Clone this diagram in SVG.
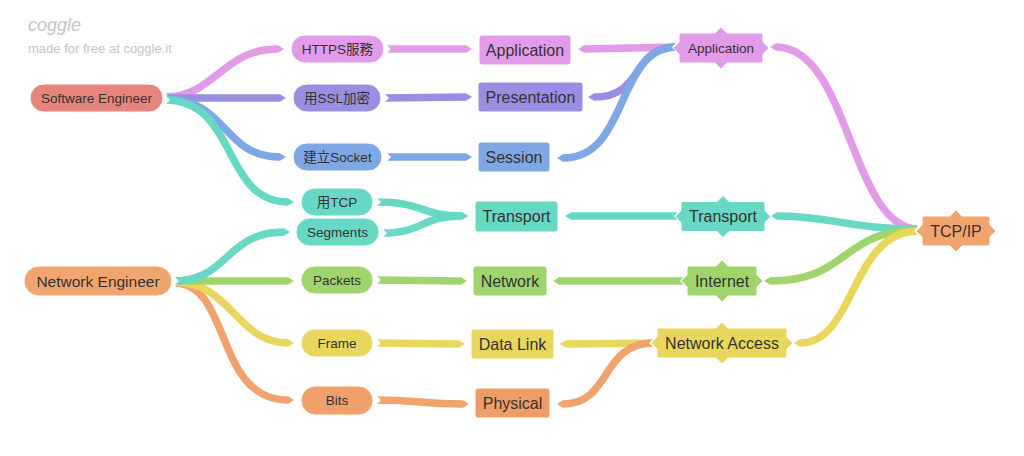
<svg xmlns="http://www.w3.org/2000/svg" width="1024" height="456" viewBox="0 0 1024 456">
<style>
.t{font-family:"Liberation Sans",Arial,"Noto Sans CJK TC",sans-serif;fill:#363232;text-anchor:middle;dominant-baseline:central}
.f13{font-size:13.5px}.f14{font-size:13.5px}.f15{font-size:15.5px}.f16{font-size:16px}
.c{fill:none;stroke-width:7.5;marker-start:url(#notch)}
.pk{stroke:#e29be8;marker-end:url(#mpk)}
.pu{stroke:#9a8ee2;marker-end:url(#mpu)}
.bl{stroke:#7ea7e6;marker-end:url(#mbl)}
.te{stroke:#66d8c3;marker-end:url(#mte)}
.gr{stroke:#9fd56c;marker-end:url(#mgr)}
.ye{stroke:#e9d65c;marker-end:url(#mye)}
.or{stroke:#f0a36c;marker-end:url(#mor)}
.n{stroke:#fff;stroke-width:1}
</style>
<defs>
<marker id="notch" markerUnits="userSpaceOnUse" viewBox="0 0 5 10" refX="0" refY="5" markerWidth="5" markerHeight="10" orient="auto"><path d="M0,0 L5,5 L0,10 Z" fill="#fff"/></marker>
<marker id="mpk" markerUnits="userSpaceOnUse" viewBox="0 0 6 7.5" refX="0" refY="3.75" markerWidth="6" markerHeight="7.5" orient="auto"><path d="M0,0 L6,3.75 L0,7.5 Z" fill="#e29be8"/></marker>
<marker id="mpu" markerUnits="userSpaceOnUse" viewBox="0 0 6 7.5" refX="0" refY="3.75" markerWidth="6" markerHeight="7.5" orient="auto"><path d="M0,0 L6,3.75 L0,7.5 Z" fill="#9a8ee2"/></marker>
<marker id="mbl" markerUnits="userSpaceOnUse" viewBox="0 0 6 7.5" refX="0" refY="3.75" markerWidth="6" markerHeight="7.5" orient="auto"><path d="M0,0 L6,3.75 L0,7.5 Z" fill="#7ea7e6"/></marker>
<marker id="mte" markerUnits="userSpaceOnUse" viewBox="0 0 6 7.5" refX="0" refY="3.75" markerWidth="6" markerHeight="7.5" orient="auto"><path d="M0,0 L6,3.75 L0,7.5 Z" fill="#66d8c3"/></marker>
<marker id="mgr" markerUnits="userSpaceOnUse" viewBox="0 0 6 7.5" refX="0" refY="3.75" markerWidth="6" markerHeight="7.5" orient="auto"><path d="M0,0 L6,3.75 L0,7.5 Z" fill="#9fd56c"/></marker>
<marker id="mye" markerUnits="userSpaceOnUse" viewBox="0 0 6 7.5" refX="0" refY="3.75" markerWidth="6" markerHeight="7.5" orient="auto"><path d="M0,0 L6,3.75 L0,7.5 Z" fill="#e9d65c"/></marker>
<marker id="mor" markerUnits="userSpaceOnUse" viewBox="0 0 6 7.5" refX="0" refY="3.75" markerWidth="6" markerHeight="7.5" orient="auto"><path d="M0,0 L6,3.75 L0,7.5 Z" fill="#f0a36c"/></marker>
</defs>
<rect width="1024" height="456" fill="#fff"/>
<g id="logo">
<text x="28" y="31" font-family="'Liberation Sans',Arial,sans-serif" font-style="italic" font-size="18" fill="#c4c4c4">coggle</text>
<text x="28" y="53" font-family="'Liberation Sans',Arial,sans-serif" font-size="13" fill="#c4c4c4">made for free at coggle.it</text>
</g>
<g id="connectors">
<path class="c pk" d="M165,97 C215,97 222,49 278,49"/>
<path class="c pu" d="M165,98 L280,98"/>
<path class="c bl" d="M165,99 C228,99 222,157 280,157"/>
<path class="c te" d="M165,100 C238,100 222,202 288,202"/>
<path class="c or" d="M174,283 C232,283 214,400 288,400"/>
<path class="c ye" d="M174,282 C232,282 236,343 288,343"/>
<path class="c gr" d="M174,281 L288,281"/>
<path class="c te" d="M174,281 C228,281 226,232 284,232"/>
<path class="c pk" d="M386,49 L466,49"/>
<path class="c pu" d="M384,98 L466,97"/>
<path class="c bl" d="M386,157 L466,157"/>
<path class="c te" d="M376,202 C425,202 420,216 462,216"/>
<path class="c te" d="M382,233 C425,233 420,216 462,216"/>
<path class="c gr" d="M376,280 L461,281"/>
<path class="c ye" d="M376,343 L459,344"/>
<path class="c or" d="M376,400 C420,400 420,404 463,404"/>
<path class="c pk" d="M677,47 L584,49"/>
<path class="c pu" d="M677,47 C630,47 645,97 594,97"/>
<path class="c bl" d="M677,47 C615,47 630,158 563,158"/>
<path class="c te" d="M679,216 L571,216"/>
<path class="c gr" d="M685,281 L559,281"/>
<path class="c ye" d="M655,343 L566,344"/>
<path class="c or" d="M654,343 C600,343 612,404 563,404"/>
<path class="c pk" d="M919,229 C850,229 850,47 776,47"/>
<path class="c te" d="M919,229 C850,229 830,216 777,216"/>
<path class="c gr" d="M919,230 C840,230 850,281 770,281"/>
<path class="c ye" d="M919,231 C850,231 856,343 800,343"/>
</g>
<g id="n-se"><rect class="n" x="30" y="84" width="133" height="28" rx="14" fill="#e6857e"/><text class="t f13" x="96.5" y="98">Software Engineer</text></g>
<g id="n-ne"><rect class="n" x="24" y="266" width="148" height="30" rx="15" fill="#f0a56f"/><text class="t f15" x="98" y="281">Network Engineer</text></g>
<g id="n-https"><rect class="n" x="291" y="35" width="93" height="28" rx="14" fill="#e29be8"/><text class="t f13" x="337.5" y="49">HTTPS服務</text></g>
<g id="n-ssl"><rect class="n" x="293" y="84" width="88" height="28" rx="14" fill="#9a8ee2"/><text class="t f13" x="337" y="98">用SSL加密</text></g>
<g id="n-socket"><rect class="n" x="293" y="143" width="89" height="28" rx="14" fill="#7ea7e6"/><text class="t f13" x="337.5" y="157">建立Socket</text></g>
<g id="n-tcp"><rect class="n" x="301" y="188" width="72" height="28" rx="14" fill="#66d8c3"/><text class="t f13" x="337" y="202">用TCP</text></g>
<g id="n-segments"><rect class="n" x="296" y="218" width="83" height="28" rx="14" fill="#66d8c3"/><text class="t f13" x="337.5" y="232">Segments</text></g>
<g id="n-packets"><rect class="n" x="301" y="266" width="72" height="28" rx="14" fill="#9fd56c"/><text class="t f13" x="337" y="280">Packets</text></g>
<g id="n-frame"><rect class="n" x="301" y="329" width="72" height="28" rx="14" fill="#e9d65c"/><text class="t f13" x="337" y="343">Frame</text></g>
<g id="n-bits"><rect class="n" x="301" y="386" width="72" height="29" rx="14.5" fill="#f0a06a"/><text class="t f13" x="337" y="400.5">Bits</text></g>
<g id="n-app"><rect class="n" x="479" y="35" width="92" height="30" rx="3" fill="#e29be8"/><text class="t f16" x="525" y="50">Application</text></g>
<g id="n-pres"><rect class="n" x="478" y="82" width="105" height="30" rx="3" fill="#9a8ee2"/><text class="t f16" x="530.5" y="97">Presentation</text></g>
<g id="n-session"><rect class="n" x="478" y="142" width="72" height="30" rx="3" fill="#7ea7e6"/><text class="t f16" x="514" y="157">Session</text></g>
<g id="n-transport"><rect class="n" x="475" y="201" width="83" height="31" rx="3" fill="#66d8c3"/><text class="t f16" x="516.5" y="216.5">Transport</text></g>
<g id="n-network"><rect class="n" x="473" y="266" width="74" height="30" rx="3" fill="#9fd56c"/><text class="t f16" x="510" y="281">Network</text></g>
<g id="n-datalink"><rect class="n" x="471" y="329" width="83" height="30" rx="3" fill="#e9d65c"/><text class="t f16" x="512.5" y="344">Data Link</text></g>
<g id="n-physical"><rect class="n" x="475" y="388" width="75" height="30" rx="3" fill="#ef9d67"/><text class="t f16" x="512.5" y="403">Physical</text></g>
<g id="n-tapp" transform="translate(721,48)"><path class="n" fill="#e29be8" d="M-40,-15 L-6,-15 L0,-21 L6,-15 L40,-15 Q42,-15 42,-13 L42,-6 L48,0 L42,6 L42,13 Q42,15 40,15 L6,15 L0,21 L-6,15 L-40,15 Q-42,15 -42,13 L-42,6 L-48,0 L-42,-6 L-42,-13 Q-42,-15 -40,-15 Z"/><text class="t f14" x="0" y="0">Application</text></g>
<g id="n-ttransport" transform="translate(723,216.5)"><path class="n" fill="#66d8c3" d="M-40,-15 L-6,-15 L0,-21 L6,-15 L40,-15 Q42,-15 42,-13 L42,-6 L48,0 L42,6 L42,13 Q42,15 40,15 L6,15 L0,21 L-6,15 L-40,15 Q-42,15 -42,13 L-42,6 L-48,0 L-42,-6 L-42,-13 Q-42,-15 -40,-15 Z"/><text class="t f16" x="0" y="0">Transport</text></g>
<g id="n-internet" transform="translate(722,281)"><path class="n" fill="#9fd56c" d="M-33,-15 L-6,-15 L0,-21 L6,-15 L33,-15 Q35,-15 35,-13 L35,-6 L41,0 L35,6 L35,13 Q35,15 33,15 L6,15 L0,21 L-6,15 L-33,15 Q-35,15 -35,13 L-35,6 L-41,0 L-35,-6 L-35,-13 Q-35,-15 -33,-15 Z"/><text class="t f16" x="0" y="0">Internet</text></g>
<g id="n-netaccess" transform="translate(722,343)"><path class="n" fill="#e9d65c" d="M-63,-15 L-6,-15 L0,-21 L6,-15 L63,-15 Q65,-15 65,-13 L65,-6 L71,0 L65,6 L65,13 Q65,15 63,15 L6,15 L0,21 L-6,15 L-63,15 Q-65,15 -65,13 L-65,6 L-71,0 L-65,-6 L-65,-13 Q-65,-15 -63,-15 Z"/><text class="t f16" x="0" y="0">Network Access</text></g>
<g id="n-tcpip" transform="translate(956,231)"><path class="n" fill="#f0a56e" d="M-32,-15 L-6,-15 L0,-21 L6,-15 L32,-15 Q34,-15 34,-13 L34,-6 L40,0 L34,6 L34,13 Q34,15 32,15 L6,15 L0,21 L-6,15 L-32,15 Q-34,15 -34,13 L-34,6 L-40,0 L-34,-6 L-34,-13 Q-34,-15 -32,-15 Z"/><text class="t f16" x="0" y="0">TCP/IP</text></g>
</svg>
